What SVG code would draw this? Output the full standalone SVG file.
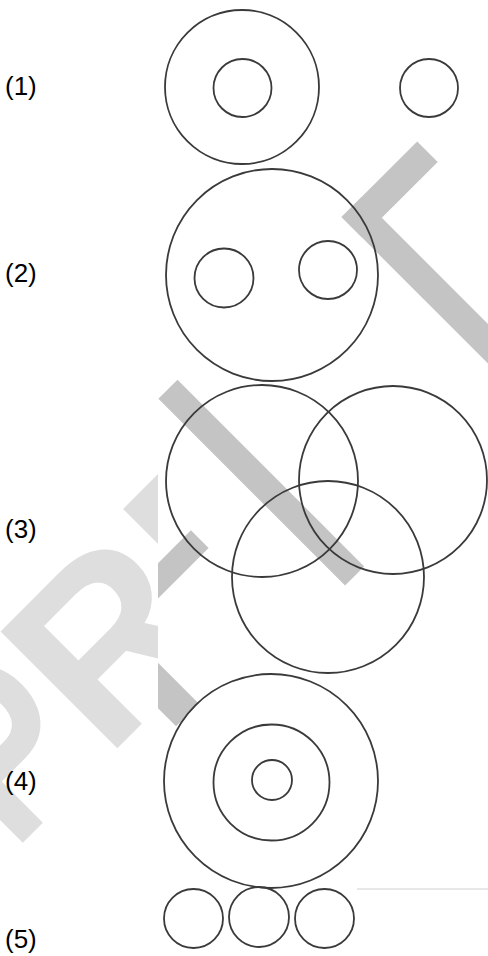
<svg xmlns="http://www.w3.org/2000/svg" width="488" height="956" viewBox="0 0 488 956">
<defs>
<style>
.c{fill:none;stroke:#3a3a3a;stroke-width:1.8}
.lbl{font-family:"Liberation Sans",Arial,sans-serif;font-size:26px;fill:#000}
.band{fill:#c4c4c4}
.wm{font-family:"Liberation Sans",Arial,sans-serif;font-weight:bold;font-size:240px;fill:#dedede}
</style>
<clipPath id="leftClip"><rect x="0" y="0" width="158" height="956"/></clipPath>
<clipPath id="imgClip"><rect x="158" y="0" width="330" height="888"/></clipPath>
</defs>
<rect x="0" y="0" width="488" height="956" fill="#fff"/>
<g id="watermark" clip-path="url(#leftClip)">
<text class="wm" transform="rotate(-45) scale(0.82 1)" x="-723" y="612">P</text>
<text class="wm" transform="rotate(-45)" x="-462" y="612">RE</text>
</g>
<g id="bands" clip-path="url(#imgClip)">
<g transform="rotate(-45)">
<rect class="band" x="88" y="395" width="107" height="29"/>
<rect class="band" x="88" y="395" width="28" height="240"/>
<rect class="band" x="-170" y="394" width="27" height="264"/>
<rect class="band" x="-330" y="510" width="90" height="25"/>
<rect class="band" x="-389" y="540" width="32" height="98"/>
</g>
</g>
<line x1="357" y1="889" x2="488" y2="889" stroke="#d0d0d0" stroke-width="1"/>
<g id="labels">
<text class="lbl" x="5" y="95">(1)</text>
<text class="lbl" x="5" y="282">(2)</text>
<text class="lbl" x="5" y="538">(3)</text>
<text class="lbl" x="5" y="790">(4)</text>
<text class="lbl" x="5" y="948">(5)</text>
</g>
<g id="fig1">
<circle class="c" cx="242" cy="87" r="77"/>
<circle class="c" cx="242.5" cy="88" r="29"/>
<circle class="c" cx="429" cy="88" r="29"/>
</g>
<g id="fig2">
<circle class="c" cx="272" cy="275" r="106"/>
<circle class="c" cx="224" cy="278" r="29.5"/>
<circle class="c" cx="328" cy="270" r="29"/>
</g>
<g id="fig3">
<circle class="c" cx="262" cy="481" r="96"/>
<circle class="c" cx="393" cy="480" r="94"/>
<circle class="c" cx="328" cy="577" r="96"/>
</g>
<g id="fig4">
<circle class="c" cx="271" cy="781" r="107"/>
<circle class="c" cx="271.5" cy="782.5" r="58"/>
<circle class="c" cx="272" cy="780" r="20"/>
</g>
<g id="fig5">
<circle class="c" cx="193.5" cy="918.5" r="29.5"/>
<circle class="c" cx="259" cy="917" r="30"/>
<circle class="c" cx="324.5" cy="918.5" r="29.5"/>
</g>
</svg>
